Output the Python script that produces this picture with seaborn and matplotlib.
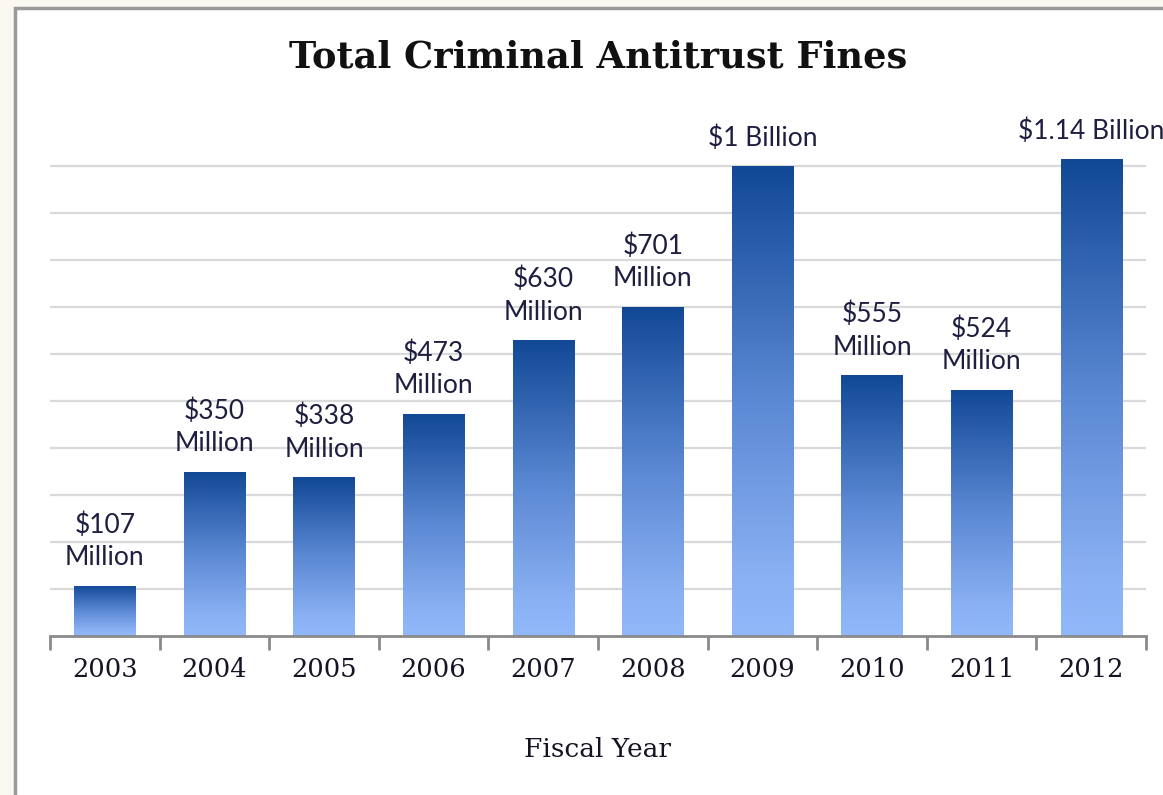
import numpy as np
import pandas as pd
import matplotlib
matplotlib.use('Agg')
import matplotlib.pyplot as plt
import seaborn as sns
from matplotlib.colors import LinearSegmentedColormap
from matplotlib.patches import Rectangle

years = ['2003', '2004', '2005', '2006', '2007', '2008', '2009', '2010', '2011', '2012']
fines = [107, 350, 338, 473, 630, 701, 1000, 555, 524, 1140]  # millions of dollars
labels = ['$107\nMillion', '$350\nMillion', '$338\nMillion', '$473\nMillion', '$630\nMillion',
          '$701\nMillion', '$1 Billion', '$555\nMillion', '$524\nMillion', '$1.14 Billion']

df = pd.DataFrame({'Fiscal Year': years, 'Fine': fines})

sns.set_style('white')
fig = plt.figure(figsize=(11.63, 7.95), dpi=100)
fig.patch.set_facecolor('#FAF8F1')

# chart frame (left and top border visible, the rest is cut off)
frame = Rectangle((15 / 1163, -0.05), 1.2, (795 - 8) / 795 + 0.05,
                  transform=fig.transFigure, facecolor='white',
                  edgecolor='#9a9a9a', linewidth=2.5, zorder=-10)
fig.patches.append(frame)

ax = fig.add_axes([50 / 1163, 1 - 636 / 795, (1146 - 50) / 1163, 477 / 795])
ax.set_facecolor('none')
top = 1015

sns.barplot(data=df, x='Fiscal Year', y='Fine', color='#4a7cc8', width=0.56, ax=ax)

cmap = LinearSegmentedColormap.from_list('fade', [(0, '#91B8F9'), (0.12, '#8AB1F3'),
                                                  (0.5, '#5C89D4'), (1, '#114896')])
grad = np.linspace(0, 1, 256).reshape(-1, 1)
for bar in ax.patches:
    x0, w, h = bar.get_x(), bar.get_width(), bar.get_height()
    img = ax.imshow(grad, cmap=cmap, aspect='auto', origin='lower',
                    extent=(x0, x0 + w, 0, min(h, top)), zorder=2)
    img.set_clip_path(bar)
    bar.set_facecolor('none')
    bar.set_edgecolor('none')

ax.set_xlim(-0.5, len(years) - 0.5)
ax.set_ylim(0, top)

for i, (v, lab) in enumerate(zip(fines, labels)):
    ax.annotate(lab, xy=(i, min(v, top)), xytext=(0, 11), textcoords='offset points',
                ha='center', va='bottom', fontsize=19, family='Lato',
                color='#1e1e40', linespacing=1.38, annotation_clip=False)

for y in range(100, 1001, 100):
    ax.axhline(y, color='#d9d9d9', linewidth=1.6, zorder=0)

for s in ['left', 'right', 'top']:
    ax.spines[s].set_visible(False)
ax.spines['bottom'].set_color('#8a8a8a')
ax.spines['bottom'].set_linewidth(2)
ax.spines['bottom'].set_zorder(3)

ax.set_yticks([])
ax.set_xticks(range(len(years)))
ax.set_xticklabels(years, family='DejaVu Serif', fontsize=18.5, color='#141424')
ax.tick_params(axis='x', which='major', bottom=False, length=0, pad=15)
ax.set_xticks(np.arange(-0.5, len(years), 1), minor=True)
ax.tick_params(axis='x', which='minor', bottom=True, length=10, width=2,
               color='#8a8a8a', direction='out')

ax.set_xlabel('Fiscal Year', family='DejaVu Serif', fontsize=19, color='#141424', labelpad=40)
ax.set_ylabel('')

fig.text(598 / 1163, 1 - 57 / 795, 'Total Criminal Antitrust Fines', ha='center', va='center',
         family='DejaVu Serif', fontweight='bold', fontsize=26.5, color='#111111')

fig.savefig('out.png', dpi=100, facecolor=fig.get_facecolor())
